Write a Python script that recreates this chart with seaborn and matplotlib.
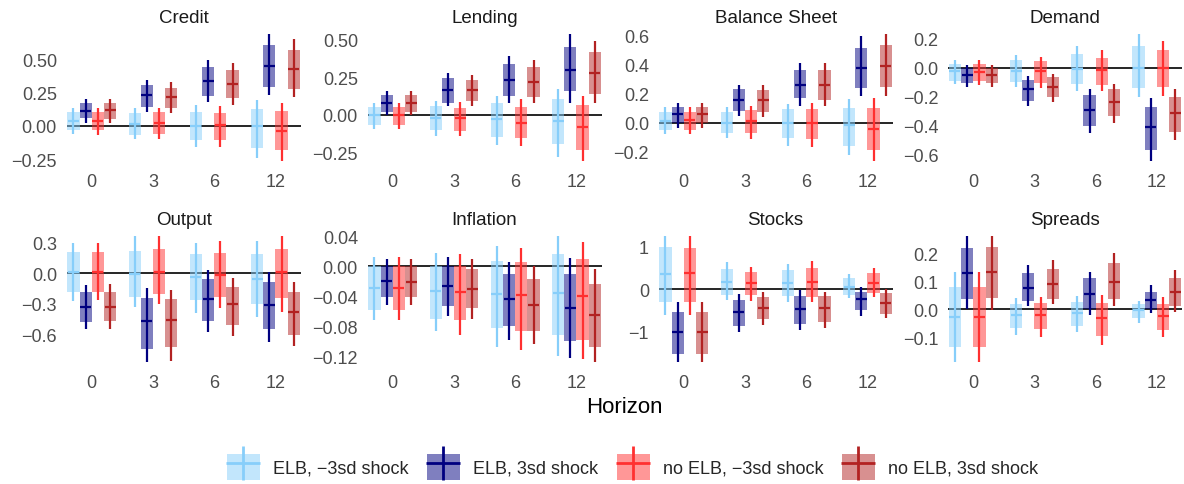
import matplotlib
matplotlib.use("Agg")
import numpy as np
import pandas as pd
import matplotlib.pyplot as plt
from matplotlib.patches import Rectangle, Patch
from matplotlib.lines import Line2D
from matplotlib.legend_handler import HandlerTuple
import seaborn as sns

# ---------------------------------------------------------------------------
# Impulse responses: median, inner band (rectangle) and outer band (whisker).
# Every list is ordered horizon-major, scenario-minor:
#   h0: s1 s2 s3 s4 | h3: s1 .. s4 | h6: s1 .. s4 | h12: s1 .. s4
# ---------------------------------------------------------------------------
horizons = ["0", "3", "6", "12"]
scenarios = ["ELB, \u22123sd shock", "ELB, 3sd shock",
             "no ELB, \u22123sd shock", "no ELB, 3sd shock"]
colors = ["#87CEFA", "#000080", "#FF3030", "#B22222"]
variables = ["Credit", "Lending", "Balance Sheet", "Demand",
             "Output", "Inflation", "Stocks", "Spreads"]

credit_med = [0.035, 0.115, 0.035, 0.118, 0.013, 0.23, 0.025, 0.218,
              0.0, 0.34, 0.005, 0.318, 0.0, 0.448, -0.035, 0.428]
credit_lo_in = [-0.03, 0.058, -0.03, 0.05, -0.068, 0.143, -0.063, 0.133,
                -0.105, 0.223, -0.105, 0.208, -0.168, 0.293, -0.18, 0.275]
credit_hi_in = [0.108, 0.175, 0.108, 0.175, 0.10, 0.305, 0.108, 0.288,
                0.108, 0.445, 0.10, 0.418, 0.125, 0.605, 0.11, 0.568]
credit_lo_out = [-0.063, 0.02, -0.068, 0.02, -0.10, 0.105, -0.095, 0.10,
                 -0.158, 0.18, -0.158, 0.16, -0.238, 0.233, -0.263, 0.218]
credit_hi_out = [0.138, 0.205, 0.138, 0.205, 0.138, 0.343, 0.138, 0.333,
                 0.155, 0.498, 0.15, 0.47, 0.195, 0.69, 0.175, 0.65]

lending_med = [0.0, 0.078, -0.004, 0.076, -0.018, 0.167, -0.024, 0.164,
               -0.029, 0.231, -0.051, 0.222, -0.04, 0.30, -0.08, 0.282]
lending_lo_in = [-0.069, 0.022, -0.069, 0.022, -0.10, 0.082, -0.107, 0.093,
                 -0.147, 0.127, -0.156, 0.12, -0.191, 0.156, -0.233, 0.142]
lending_hi_in = [0.053, 0.131, 0.053, 0.131, 0.056, 0.244, 0.049, 0.231,
                 0.076, 0.342, 0.053, 0.316, 0.104, 0.449, 0.064, 0.416]
lending_lo_out = [-0.096, 0.0, -0.096, 0.0, -0.14, 0.056, -0.14, 0.06,
                  -0.202, 0.076, -0.207, 0.076, -0.278, 0.082, -0.307, 0.082]
lending_hi_out = [0.076, 0.16, 0.076, 0.156, 0.093, 0.282, 0.087, 0.267,
                  0.127, 0.393, 0.104, 0.364, 0.171, 0.538, 0.127, 0.489]

balance_med = [0.011, 0.057, 0.018, 0.057, 0.0, 0.155, 0.011, 0.153,
               0.0, 0.258, -0.005, 0.258, -0.018, 0.377, -0.041, 0.389]
balance_lo_in = [-0.05, 0.0, -0.05, 0.0, -0.069, 0.08, -0.069, 0.073,
                 -0.103, 0.165, -0.11, 0.155, -0.16, 0.24, -0.19, 0.245]
balance_hi_in = [0.075, 0.11, 0.075, 0.11, 0.075, 0.229, 0.085, 0.222,
                 0.091, 0.359, 0.091, 0.359, 0.103, 0.514, 0.103, 0.53]
balance_lo_out = [-0.08, -0.034, -0.08, -0.034, -0.103, 0.046, -0.11, 0.039,
                  -0.16, 0.114, -0.167, 0.114, -0.224, 0.183, -0.263, 0.183]
balance_hi_out = [0.107, 0.137, 0.107, 0.137, 0.107, 0.258, 0.114, 0.256,
                  0.13, 0.407, 0.133, 0.411, 0.16, 0.594, 0.165, 0.606]

demand_med = [-0.023, -0.053, -0.028, -0.053, -0.023, -0.15, -0.023, -0.134,
              -0.007, -0.294, -0.018, -0.238, 0.0, -0.409, 0.0, -0.317]
demand_lo_in = [-0.092, -0.104, -0.092, -0.104, -0.099, -0.231, -0.104, -0.203,
                -0.116, -0.405, -0.12, -0.335, -0.143, -0.573, -0.134, -0.446]
demand_hi_in = [0.023, -0.005, 0.023, -0.005, 0.051, -0.086, 0.046, -0.069,
                0.092, -0.192, 0.069, -0.15, 0.146, -0.271, 0.12, -0.201]
demand_lo_out = [-0.116, -0.134, -0.12, -0.134, -0.134, -0.266, -0.139, -0.238,
                 -0.162, -0.455, -0.166, -0.382, -0.203, -0.647, -0.197, -0.504]
demand_hi_out = [0.053, 0.018, 0.053, 0.018, 0.086, -0.062, 0.076, -0.042,
                 0.146, -0.15, 0.12, -0.111, 0.231, -0.213, 0.185, -0.15]

output_med = [0.013, -0.33, 0.013, -0.33, -0.01, -0.472, 0.007, -0.465,
              -0.036, -0.257, -0.017, -0.307, -0.059, -0.317, 0.007, -0.38]
output_lo_in = [-0.185, -0.482, -0.182, -0.472, -0.234, -0.743, -0.208, -0.729,
                -0.264, -0.472, -0.234, -0.512, -0.307, -0.554, -0.248, -0.61]
output_hi_in = [0.205, -0.182, 0.205, -0.182, 0.215, -0.248, 0.238, -0.257,
                0.188, -0.059, 0.198, -0.132, 0.188, -0.092, 0.238, -0.182]
output_lo_out = [-0.274, -0.545, -0.267, -0.545, -0.333, -0.878, -0.30, -0.861,
                 -0.389, -0.578, -0.34, -0.62, -0.429, -0.68, -0.38, -0.719]
output_hi_out = [0.294, -0.116, 0.297, -0.109, 0.37, -0.149, 0.37, -0.168,
                 0.294, 0.03, 0.32, -0.05, 0.314, 0.013, 0.363, -0.083]

inflation_med = [-0.029, -0.020, -0.029, -0.0204, -0.033, -0.0267, -0.0347, -0.0302,
                 -0.0364, -0.0431, -0.0382, -0.052, -0.0356, -0.0556, -0.04, -0.0644]
inflation_lo_in = [-0.0587, -0.0413, -0.0587, -0.0413, -0.070, -0.0533, -0.072, -0.0556,
                   -0.0822, -0.08, -0.0858, -0.0867, -0.092, -0.10, -0.0978, -0.108]
inflation_hi_in = [0.0, 0.0, 0.0, 0.0, 0.0, 0.0, 0.0, -0.0036,
                   0.0076, -0.0098, 0.0053, -0.0164, 0.0169, -0.0098, 0.0098, -0.0231]
inflation_lo_out = [-0.071, -0.051, -0.071, -0.052, -0.0867, -0.0667, -0.091, -0.0698,
                    -0.1076, -0.0978, -0.111, -0.103, -0.119, -0.122, -0.1236, -0.128]
inflation_hi_out = [0.0124, 0.0102, 0.0124, 0.0102, 0.0178, 0.0124, 0.0169, 0.0098,
                    0.0276, 0.0058, 0.0244, 0.0, 0.0409, 0.0111, 0.0324, -0.0036]

stocks_med = [0.354, -1.0, 0.37, -1.008, 0.173, -0.535, 0.142, -0.433,
              0.142, -0.457, 0.181, -0.449, 0.063, -0.236, 0.157, -0.315]
stocks_lo_in = [-0.299, -1.512, -0.299, -1.512, -0.142, -0.866, -0.142, -0.709,
                -0.157, -0.827, -0.173, -0.772, -0.142, -0.496, -0.079, -0.575]
stocks_hi_in = [0.984, -0.528, 0.96, -0.528, 0.472, -0.252, 0.409, -0.173,
                0.449, -0.157, 0.488, -0.157, 0.26, -0.055, 0.378, -0.094]
stocks_lo_out = [-0.614, -1.717, -0.614, -1.717, -0.26, -1.008, -0.276, -0.843,
                 -0.299, -0.961, -0.291, -0.906, -0.197, -0.63, -0.181, -0.685]
stocks_hi_out = [1.26, -0.299, 1.26, -0.299, 0.63, -0.118, 0.528, -0.063,
                 0.591, -0.016, 0.654, -0.055, 0.354, 0.063, 0.488, 0.016]

spreads_med = [-0.027, 0.131, -0.027, 0.133, -0.021, 0.077, -0.02, 0.092,
               -0.014, 0.054, -0.03, 0.098, -0.002, 0.033, -0.024, 0.062]
spreads_lo_in = [-0.135, 0.038, -0.135, 0.039, -0.068, 0.03, -0.071, 0.036,
                 -0.06, 0.0, -0.095, 0.038, -0.032, 0.0, -0.074, 0.012]
spreads_hi_in = [0.081, 0.22, 0.081, 0.224, 0.02, 0.129, 0.024, 0.143,
                 0.027, 0.111, 0.024, 0.164, 0.02, 0.063, 0.02, 0.111]
spreads_lo_out = [-0.187, 0.0, -0.19, -0.002, -0.092, 0.01, -0.098, 0.018,
                  -0.083, -0.02, -0.127, 0.01, -0.048, -0.012, -0.098, -0.01]
spreads_hi_out = [0.133, 0.264, 0.133, 0.264, 0.039, 0.157, 0.044, 0.175,
                  0.048, 0.135, 0.051, 0.202, 0.03, 0.086, 0.044, 0.139]

# y-axis ticks and label decimals for each facet
credit_yticks = [-0.25, 0.0, 0.25, 0.50]
lending_yticks = [-0.25, 0.0, 0.25, 0.50]
balance_yticks = [-0.2, 0.0, 0.2, 0.4, 0.6]
demand_yticks = [-0.6, -0.4, -0.2, 0.0, 0.2]
output_yticks = [-0.6, -0.3, 0.0, 0.3]
inflation_yticks = [-0.12, -0.08, -0.04, 0.0, 0.04]
stocks_yticks = [-1, 0, 1]
spreads_yticks = [-0.1, 0.0, 0.1, 0.2]
ytick_decimals = [2, 2, 1, 1, 1, 2, 0, 1]

# ---------------------------------------------------------------------------
# Long-format table
# ---------------------------------------------------------------------------
facet_data = [
    (credit_med, credit_lo_in, credit_hi_in, credit_lo_out, credit_hi_out),
    (lending_med, lending_lo_in, lending_hi_in, lending_lo_out, lending_hi_out),
    (balance_med, balance_lo_in, balance_hi_in, balance_lo_out, balance_hi_out),
    (demand_med, demand_lo_in, demand_hi_in, demand_lo_out, demand_hi_out),
    (output_med, output_lo_in, output_hi_in, output_lo_out, output_hi_out),
    (inflation_med, inflation_lo_in, inflation_hi_in, inflation_lo_out, inflation_hi_out),
    (stocks_med, stocks_lo_in, stocks_hi_in, stocks_lo_out, stocks_hi_out),
    (spreads_med, spreads_lo_in, spreads_hi_in, spreads_lo_out, spreads_hi_out),
]
facet_yticks = [credit_yticks, lending_yticks, balance_yticks, demand_yticks,
                output_yticks, inflation_yticks, stocks_yticks, spreads_yticks]

rows = []
for var, (med, lo_in, hi_in, lo_out, hi_out) in zip(variables, facet_data):
    for i in range(len(med)):
        rows.append(dict(variable=var,
                         horizon=horizons[i // 4],
                         scenario=scenarios[i % 4],
                         median=med[i], lo_in=lo_in[i], hi_in=hi_in[i],
                         lo_out=lo_out[i], hi_out=hi_out[i]))
df = pd.DataFrame(rows)

# ---------------------------------------------------------------------------
# Styling
# ---------------------------------------------------------------------------
sns.set_theme(style="white")
plt.rcParams["font.family"] = ["Liberation Sans", "DejaVu Sans"]
palette = dict(zip(scenarios, sns.color_palette(colors)))

W, H = 1184, 485
fig = plt.figure(figsize=(W / 100, H / 100), dpi=100)

col_left = [66.7, 367.7, 658.7, 948.2]
panel_w = 233.8
row_top = [28.8, 230.2]
panel_h = 139.5

dodge = 0.2
bar_w = 0.2
offsets = {s: (k - 1.5) * dodge for k, s in enumerate(scenarios)}
h_pos = {h: k for k, h in enumerate(horizons)}

tick_color = "#4D4D4D"

for idx, var in enumerate(variables):
    r, c = divmod(idx, 4)
    ax = fig.add_axes([col_left[c] / W, 1 - (row_top[r] + panel_h) / H,
                       panel_w / W, panel_h / H])
    sub = df[df["variable"] == var]
    ax.axhline(0, color="black", lw=1.2, zorder=1)
    for _, row in sub.iterrows():
        x = h_pos[row["horizon"]] + offsets[row["scenario"]]
        col = palette[row["scenario"]]
        ax.add_patch(Rectangle((x - bar_w / 2, row["lo_in"]), bar_w,
                               row["hi_in"] - row["lo_in"],
                               facecolor=col, alpha=0.5, lw=0, zorder=2))
        ax.vlines(x, row["lo_out"], row["hi_out"], color=col, lw=1.6, zorder=3)
        ax.hlines(row["median"], x - bar_w * 0.45, x + bar_w * 0.45,
                  color=col, lw=1.6, zorder=3)
    ax.margins(y=0.05)
    ax.autoscale_view()
    ax.set_xlim(-0.41, 3.41)
    ax.set_xticks(range(len(horizons)))
    ax.set_xticklabels(horizons)
    yt = facet_yticks[idx]
    ax.set_yticks(yt)
    d = ytick_decimals[idx]
    ax.set_yticklabels([f"{v:.{d}f}".replace("-", "\u2212") for v in yt])
    ax.tick_params(axis="both", length=0, labelsize=13, labelcolor=tick_color)
    ax.tick_params(axis="x", pad=4)
    ax.tick_params(axis="y", pad=7)
    ax.set_title(var, fontsize=13.5, color="#1A1A1A", pad=4)
    ax.grid(False)
    sns.despine(ax=ax, left=True, bottom=True)
    ax.set_facecolor("none")

fig.text(624.4 / W, 1 - 408 / H, "Horizon", ha="center", va="center",
         fontsize=16, color="black")

# legend keys: translucent square with a cross on top
handles = [(Patch(facecolor=palette[s], alpha=0.5, lw=0),
            Line2D([], [], color=palette[s], marker="+", markersize=24,
                   mew=2, linestyle="None"))
           for s in scenarios]
leg_fs = 13
key = 33 / (leg_fs * 100 / 72)
fig.legend(handles, scenarios, loc="center", ncol=4,
           bbox_to_anchor=(632.5 / W, 1 - 468 / H),
           handler_map={tuple: HandlerTuple(ndivide=1, pad=0)},
           handlelength=key, handleheight=key, handletextpad=0.75,
           columnspacing=1.0, frameon=False, fontsize=leg_fs,
           borderpad=0, borderaxespad=0)

fig.savefig("out.png", dpi=100)
